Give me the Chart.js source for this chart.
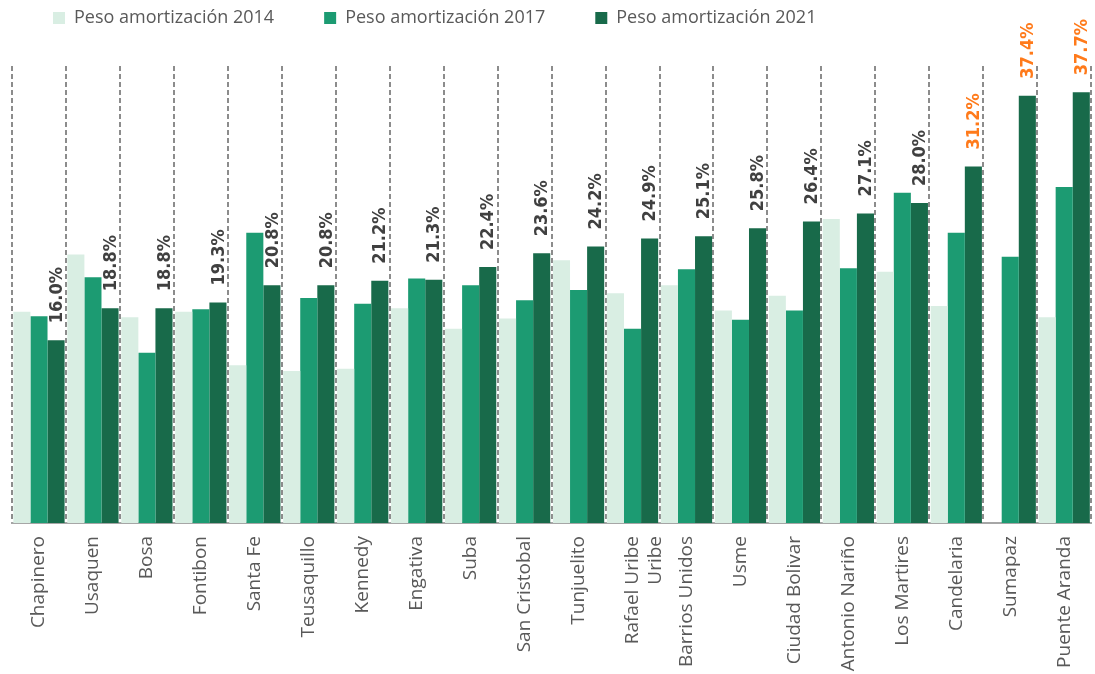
<!DOCTYPE html>
<html>
<head>
<meta charset="utf-8">
<script src="https://cdn.jsdelivr.net/npm/chart.js@4"></script>
<style>
  html, body { margin: 0; padding: 0; overflow: hidden; background: #fff; }
  #wrap { width: 1100px; height: 674px; }
</style>
</head>
<body>
<div id="wrap"><canvas id="chart"></canvas></div>
<script>
"use strict";

//data
const localidades = [
  "Chapinero", "Usaquen", "Bosa", "Fontibon", "Santa Fe", "Teusaquillo",
  "Kennedy", "Engativa", "Suba", "San Cristobal", "Tunjuelito",
  ["Rafael Uribe", "Uribe"], "Barrios Unidos", "Usme", "Ciudad Bolivar",
  "Antonio Nariño", "Los Martires", "Candelaria", "Sumapaz", "Puente Aranda",
];
const peso2014 = [18.5, 23.5, 18.0, 18.5, 13.8, 13.3, 13.5, 18.8, 17.0, 17.9,
  23.0, 20.1, 20.8, 18.6, 19.9, 26.6, 22.0, 19.0, null, 18.0];
const peso2017 = [18.1, 21.5, 14.9, 18.7, 25.4, 19.7, 19.2, 21.4, 20.8, 19.5,
  20.4, 17.0, 22.2, 17.8, 18.6, 22.3, 28.9, 25.4, 23.3, 29.4];
const peso2021 = [16.0, 18.8, 18.8, 19.3, 20.8, 20.8, 21.2, 21.3, 22.4, 23.6,
  24.2, 24.9, 25.1, 25.8, 26.4, 27.1, 28.0, 31.2, 37.4, 37.7];
const seriesNames = ["Peso amortización 2014", "Peso amortización 2017", "Peso amortización 2021"];
const seriesColors = ["#D9EEE3", "#1C9B72", "#186A4A"];

const LEGEND_PAD = 50;
const LEGEND_FONT = 18;

//labels of 2021 above the bars, rotated
const valueLabels = {
  id: "valueLabels",
  afterDatasetsDraw(chart) {
    const ctx = chart.ctx;
    const meta = chart.getDatasetMeta(2);
    ctx.save();
    ctx.font = "bold 18px 'DejaVu Sans Condensed'";
    ctx.textAlign = "left";
    ctx.textBaseline = "middle";
    meta.data.forEach(function (bar, i) {
      const v = peso2021[i];
      ctx.save();
      ctx.translate(bar.x + 1, bar.y - 17);
      ctx.rotate(-Math.PI / 2);
      ctx.fillStyle = v >= 30 ? "#FF7A1A" : "#404040";
      ctx.fillText(v.toFixed(1) + "%", 0, 0);
      ctx.restore();
    });
    ctx.restore();
  },
};

//move legend to the left like the original
const legendShift = {
  id: "legendShift",
  afterLayout(chart) {
    chart.legend.left = 53 - LEGEND_PAD;
    chart.legend.top = 9 - LEGEND_PAD;
  },
};

new Chart(document.getElementById("chart"), {
  type: "bar",
  data: {
    labels: localidades,
    datasets: [
      { label: seriesNames[0], data: peso2014, backgroundColor: seriesColors[0] },
      { label: seriesNames[1], data: peso2017, backgroundColor: seriesColors[1] },
      { label: seriesNames[2], data: peso2021, backgroundColor: seriesColors[2] },
    ],
  },
  options: {
    responsive: true,
    maintainAspectRatio: false,
    animation: false,
    categoryPercentage: 0.95,
    barPercentage: 1.0,
    layout: { padding: { left: 12, right: 0, top: 66 - (LEGEND_FONT + LEGEND_PAD + 10), bottom: 0 } },
    plugins: {
      legend: {
        position: "top",
        align: "start",
        labels: {
          boxWidth: 12,
          boxHeight: 12,
          padding: LEGEND_PAD,
          color: "#595959",
          font: { family: "'Open Sans'", size: LEGEND_FONT },
        },
      },
      tooltip: { enabled: false },
    },
    scales: {
      x: {
        grid: {
          display: true,
          offset: true,
          drawTicks: false,
          color: "#8C8C8C",
          lineWidth: 2,
        },
        border: { display: true, color: "#A6A6A6", width: 2, dash: [5, 3] },
        ticks: {
          minRotation: 90,
          maxRotation: 90,
          autoSkip: false,
          padding: 13,
          color: "#595959",
          font: { family: "'Open Sans'", size: 19 },
        },
        afterFit(scale) {
          scale.height = 151;
        },
      },
      y: {
        display: false,
        min: 0,
        max: 40,
      },
    },
  },
  plugins: [valueLabels, legendShift],
});
</script>
</body>
</html>
